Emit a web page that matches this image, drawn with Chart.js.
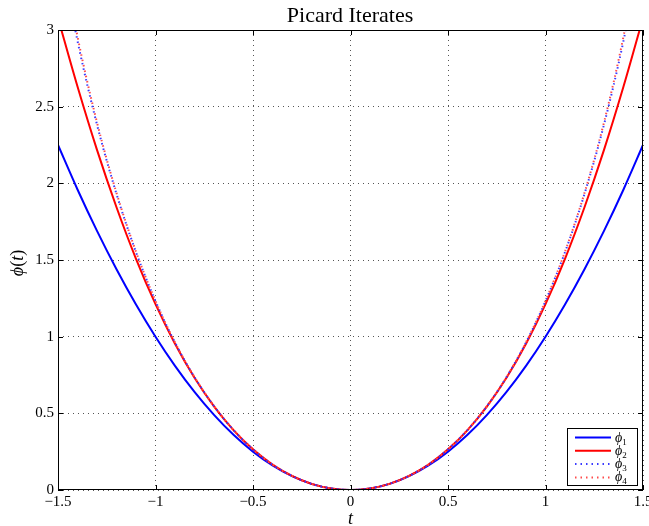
<!DOCTYPE html>
<html>
<head>
<meta charset="utf-8">
<script src="https://cdn.jsdelivr.net/npm/chart.js@4/dist/chart.umd.min.js"></script>
<style>
html,body{margin:0;padding:0;background:#fff;}
#wrap{width:649px;height:526px;position:relative;}
</style>
</head>
<body>
<div id="wrap"><canvas id="c" width="649" height="526"></canvas></div>
<script>
// Data
const tValues = [-1.5,-1.4,-1.3,-1.2,-1.1,-1.0,-0.9,-0.8,-0.7,-0.6,-0.5,-0.4,-0.3,-0.2,-0.1,0,0.1,0.2,0.3,0.4,0.5,0.6,0.7,0.8,0.9,1.0,1.1,1.2,1.3,1.4,1.5];
const phi1 = [2.25,1.96,1.69,1.44,1.21,1.0,0.81,0.64,0.49,0.36,0.25,0.16,0.09,0.04,0.01,0,0.01,0.04,0.09,0.16,0.25,0.36,0.49,0.64,0.81,1.0,1.21,1.44,1.69,1.96,2.25];
const phi2 = [3.078,2.631,2.218,1.844,1.508,1.212,0.954,0.732,0.546,0.391,0.265,0.166,0.092,0.040,0.010,0,0.010,0.040,0.092,0.166,0.265,0.391,0.546,0.732,0.954,1.212,1.508,1.844,2.218,2.631,3.078];
const phi3 = [3.595,2.929,2.383,1.931,1.551,1.232,0.962,0.736,0.547,0.391,0.265,0.166,0.092,0.040,0.010,0,0.010,0.040,0.092,0.166,0.265,0.391,0.547,0.736,0.962,1.232,1.551,1.931,2.383,2.929,3.595];
const phi4 = [3.653,2.958,2.397,1.937,1.554,1.233,0.963,0.736,0.547,0.391,0.265,0.166,0.092,0.040,0.010,0,0.010,0.040,0.092,0.166,0.265,0.391,0.547,0.736,0.963,1.233,1.554,1.937,2.397,2.958,3.653];
const xTickValues = [-1.5,-1,-0.5,0,0.5,1,1.5];
const xTickLabels = ['\u22121.5','\u22121','\u22120.5','0','0.5','1','1.5'];
const yTickValues = [0,0.5,1,1.5,2,2.5,3];
const yTickLabels = ['0','0.5','1','1.5','2','2.5','3'];
const seriesNames = ['1','2','3','4']; // subscripts of phi
const titleText = 'Picard Iterates';
const PHI = '\u03d5';

const SERIF = '"Liberation Serif","DejaVu Serif",serif';

function pts(arr){ return tValues.map((t,i)=>({x:t,y:arr[i]})); }

const styles = [
  {color:'#0000ff', dash:[], width:2, order:4},
  {color:'#ff0000', dash:[], width:2, order:3},
  {color:'#3a3aff', dash:[1.5,4], width:2, order:2},
  {color:'#ff4a4a', dash:[1.5,4], width:2, order:1}
];
const allSeries = [phi1,phi2,phi3,phi4];

const datasets = allSeries.map((s,i)=>({
  label: PHI + seriesNames[i],
  sub: seriesNames[i],
  data: pts(s),
  borderColor: styles[i].color,
  borderWidth: styles[i].width,
  borderDash: styles[i].dash,
  pointRadius: 0,
  cubicInterpolationMode: 'monotone',
  fill: false,
  clip: 0,
  order: styles[i].order
}));

const decor = {
  id:'decor',
  afterDraw(chart){
    const ctx = chart.ctx, a = chart.chartArea;
    const xs = chart.scales.x, ys = chart.scales.y;
    ctx.save();
    // box
    ctx.strokeStyle = '#000'; ctx.lineWidth = 1; ctx.setLineDash([]);
    ctx.strokeRect(Math.round(a.left)+0.5, Math.round(a.top)+0.5, Math.round(a.right-a.left)-1, Math.round(a.bottom-a.top)-1);
    // inward ticks
    const tl = 5;
    ctx.beginPath();
    xTickValues.forEach(v=>{
      const px = Math.round(xs.getPixelForValue(v))+0.5;
      ctx.moveTo(px,a.bottom); ctx.lineTo(px,a.bottom-tl);
      ctx.moveTo(px,a.top); ctx.lineTo(px,a.top+tl);
    });
    yTickValues.forEach(v=>{
      const py = Math.round(ys.getPixelForValue(v))+0.5;
      ctx.moveTo(a.left,py); ctx.lineTo(a.left+tl,py);
      ctx.moveTo(a.right,py); ctx.lineTo(a.right-tl,py);
    });
    ctx.stroke();
    // title
    ctx.fillStyle = '#000';
    ctx.font = '22px ' + SERIF;
    ctx.textAlign = 'center'; ctx.textBaseline = 'alphabetic';
    ctx.fillText(titleText, 350, 22);
    // x axis label
    ctx.font = 'italic 18px ' + SERIF;
    ctx.fillText('t', xs.getPixelForValue(0), 524);
    // y axis label phi(t)
    ctx.save();
    ctx.translate(23, 263);
    ctx.rotate(-Math.PI/2);
    ctx.textAlign = 'left';
    const parts = [['italic 18px ',PHI],['18px ','('],['italic 18px ','t'],['18px ',')']];
    let w = 0;
    parts.forEach(p=>{ctx.font = p[0]+SERIF; w += ctx.measureText(p[1]).width;});
    let cx = -w/2;
    parts.forEach(p=>{ctx.font = p[0]+SERIF; ctx.fillText(p[1], cx, 0); cx += ctx.measureText(p[1]).width;});
    ctx.restore();
    // legend
    const bx = 567, by = 428, bw = 70, bh = 57;
    ctx.fillStyle = '#fff';
    ctx.fillRect(bx, by, bw, bh);
    ctx.strokeStyle = '#000'; ctx.lineWidth = 1;
    ctx.strokeRect(bx+0.5, by+0.5, bw, bh);
    chart.data.datasets.forEach((d,i)=>{
      const yy = by + 9.5 + i*13.3;
      ctx.beginPath();
      ctx.strokeStyle = d.borderColor; ctx.lineWidth = d.borderWidth;
      ctx.setLineDash(d.borderDash);
      ctx.moveTo(bx+8, yy); ctx.lineTo(bx+44, yy);
      ctx.stroke();
      ctx.setLineDash([]);
      ctx.fillStyle = '#000';
      ctx.textAlign = 'left'; ctx.textBaseline = 'alphabetic';
      ctx.font = 'italic 14px ' + SERIF;
      ctx.fillText(PHI, bx+48, yy+4);
      const pw = ctx.measureText(PHI).width;
      ctx.font = '9px ' + SERIF;
      ctx.fillText(d.sub, bx+48+pw, yy+7);
    });
    ctx.restore();
  }
};

new Chart(document.getElementById('c'), {
  type: 'line',
  data: { datasets },
  plugins: [decor],
  options: {
    responsive: false,
    animation: false,
    layout: { padding: { top: 30, right: 6, left: 0, bottom: 0 } },
    plugins: { legend: { display: false }, title: { display: false }, tooltip: { enabled: false } },
    scales: {
      x: {
        type: 'linear', min: -1.5, max: 1.5,
        afterFit(s){ s.height = 36; s.paddingLeft = 0; s.paddingRight = 0; },
        afterBuildTicks(s){ s.ticks = xTickValues.map(v=>({value:v})); },
        ticks: {
          autoSkip: false, maxRotation: 0, padding: 3,
          color: '#000', font: { family: SERIF, size: 15 },
          callback(v){ const i = xTickValues.indexOf(v); return i>=0 ? xTickLabels[i] : ''; }
        },
        grid: { color: '#555', lineWidth: 1, drawTicks: false },
        border: { display: false, dash: [1,4] }
      },
      y: {
        type: 'linear', min: 0, max: 3,
        afterFit(s){ s.width = 58; s.paddingTop = 0; s.paddingBottom = 0; },
        afterBuildTicks(s){ s.ticks = yTickValues.map(v=>({value:v})); },
        ticks: {
          autoSkip: false, padding: 4,
          color: '#000', font: { family: SERIF, size: 15 },
          callback(v){ const i = yTickValues.indexOf(v); return i>=0 ? yTickLabels[i] : ''; }
        },
        grid: { color: '#555', lineWidth: 1, drawTicks: false },
        border: { display: false, dash: [1,4] }
      }
    }
  }
});
</script>
</body>
</html>
